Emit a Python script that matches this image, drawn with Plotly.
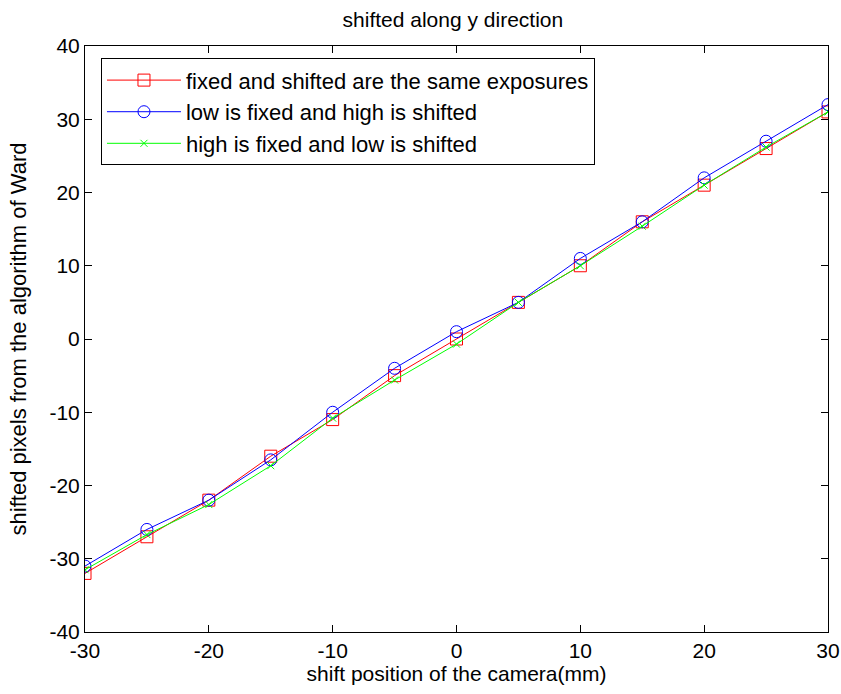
import plotly.graph_objects as go

shift_mm = [-30, -25, -20, -15, -10, -5, 0, 5, 10, 15, 20, 25, 30]
same_exposure = [-32, -27, -22, -16, -11, -5, 0, 5, 10, 16, 21, 26, 31]
low_fixed = [-31, -26, -22, -16.5, -10, -4, 1, 5, 11, 16, 22, 27, 32]
high_fixed = [-31.5, -26.7, -22.6, -17.3, -10.8, -5.6, -0.7, 5, 10, 15.4, 21, 26.2, 31]

names = ["fixed and shifted are the same exposures",
         "low is fixed and high is shifted",
         "high is fixed and low is shifted"]

x_tickvals = [-30, -20, -10, 0, 10, 20, 30]
x_ticktext = ["-30", "-20", "-10", "0", "10", "20", "30"]
y_tickvals = [-40, -30, -20, -10, 0, 10, 20, 30, 40]
y_ticktext = ["-40", "-30", "-20", "-10", "0", "10", "20", "30", "40"]

FONT = "Liberation Sans, Arial, sans-serif"
FS = 21

fig = go.Figure()
fig.add_trace(go.Scatter(x=shift_mm, y=same_exposure, name=names[0], mode="lines+markers",
                         line=dict(color="#ff0000", width=1),
                         marker=dict(symbol="square-open", size=12, color="#ff0000", line=dict(width=1))))
fig.add_trace(go.Scatter(x=shift_mm, y=low_fixed, name=names[1], mode="lines+markers",
                         line=dict(color="#0000ff", width=1),
                         marker=dict(symbol="circle-open", size=12, color="#0000ff", line=dict(width=1))))
fig.add_trace(go.Scatter(x=shift_mm, y=high_fixed, name=names[2], mode="lines+markers",
                         line=dict(color="#00ff00", width=1),
                         marker=dict(symbol="x-thin-open", size=7, color="#00ff00", line=dict(width=1, color="#00ff00"))))

axis_common = dict(showgrid=False, zeroline=False, showline=True, linecolor="black", linewidth=1,
                   mirror="ticks", ticks="inside", ticklen=7, tickcolor="black", automargin=False,
                   tickfont=dict(family=FONT, size=FS, color="black"))

fig.update_layout(
    width=841, height=694,
    paper_bgcolor="white", plot_bgcolor="white",
    margin=dict(l=85, r=13, t=46, b=62, autoexpand=False),
    title=dict(text="shifted along y direction", x=0.5385, xanchor="center", y=0.982, yanchor="top",
               font=dict(family=FONT, size=FS, color="black")),
    xaxis=dict(range=[-30, 30], tickvals=x_tickvals, ticktext=x_ticktext,
               title=dict(text="shift position of the camera(mm)", standoff=2,
                          font=dict(family=FONT, size=FS, color="black")),
               **axis_common),
    yaxis=dict(range=[-40, 40], tickvals=y_tickvals, ticktext=y_ticktext,
               title=dict(text="shifted pixels from the algorithm of Ward", standoff=16,
                          font=dict(family=FONT, size=22, color="black")),
               **axis_common),
    legend=dict(x=0.0215, y=0.979, xanchor="left", yanchor="top", bgcolor="white",
                bordercolor="black", borderwidth=1, itemwidth=74,
                font=dict(family=FONT, size=22, color="black"), tracegroupgap=0),
    showlegend=True,
)

fig.write_html("out.html", config={"displayModeBar": False},
               post_script="document.body.style.margin='0px';document.body.style.overflow='hidden';")
